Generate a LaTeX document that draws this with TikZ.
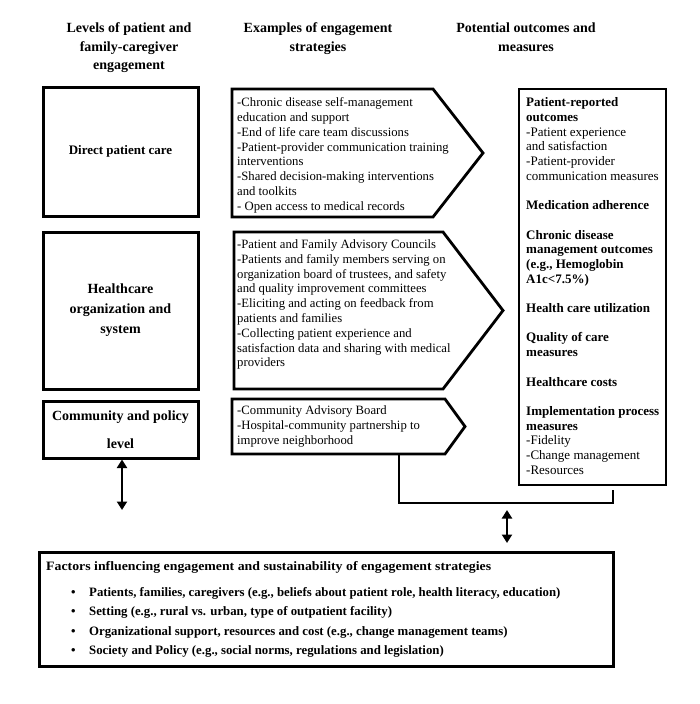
\documentclass[tikz,border=0pt]{standalone}
\usepackage{fontspec}
\setmainfont{Liberation Serif}
\newfontfamily\wide{Liberation Serif}[FakeStretch=1.08]
\usetikzlibrary{arrows.meta}
\begin{document}
\begin{tikzpicture}[x=1pt,y=-1pt,
  lvl/.style={draw, line width=3pt, minimum width=155pt, align=center, inner sep=0pt,
    font=\fontsize{14}{20}\selectfont\bfseries},
  hdr/.style={align=center, anchor=north, inner sep=0pt, font=\fontsize{14}{18.7}\selectfont\bfseries},
  chev/.style={draw, line width=2.8pt, line join=miter},
  body/.style={align=left, anchor=north west, inner sep=0pt, font=\fontsize{12.7}{14.8}\selectfont},
  outbox/.style={draw, line width=2.6pt, minimum width=147pt, minimum height=396pt, inner sep=0pt},
  factbox/.style={draw, line width=3pt, minimum width=574pt, minimum height=114pt, inner sep=0pt},
  fact/.style={align=left, anchor=north west, inner sep=0pt, font=\fontsize{12.8}{19.5}\selectfont\bfseries},
  dbl/.style={{Triangle[width=10pt,length=8.5pt]}-{Triangle[width=10pt,length=8.5pt]}, line width=2.8pt},
  link/.style={line width=2pt}]
\useasboundingbox (0,0) rectangle (700,704);
\fill[white] (0,0) rectangle (700,704);

% headers
\node[hdr] (h1) at (129,22.5) {Levels of patient and\\family-caregiver\\engagement};
\node[hdr] (h2) at (318,22.5) {Examples of engagement\\strategies};
\node[hdr] (h3) at (526,22.5) {Potential outcomes and\\measures};

% level boxes
\node[lvl, minimum height=129pt, font=\fontsize{13}{16}\selectfont\bfseries] (l1) at (120.5,151.5) {Direct patient care};
\node[lvl, minimum height=157pt] (l2) at (120.5,310.5) {Healthcare\\organization and\\system};
\node[lvl, minimum height=57pt, font=\fontsize{14}{28}\selectfont\bfseries] (l3) at (120.5,429.5) {Community and policy\\level};

% chevrons
\draw[chev] (232,89) -- (433,89) -- (483,153) -- (433,217) -- (232,217) -- cycle;
\draw[chev] (234,232) -- (443,232) -- (503,310.5) -- (443,389) -- (234,389) -- cycle;
\draw[chev] (232,399) -- (445,399) -- (465,426.5) -- (445,454) -- (232,454) -- cycle;
\coordinate (a3b) at (399,454);

\node[body] (s1) at (237,97.5) {-Chronic disease self-management\\education and support\\-End of life care team discussions\\-Patient-provider communication training\\interventions\\-Shared decision-making interventions\\and toolkits\\- Open access to medical records};
\node[body] (s2) at (237,239.5) {-Patient and Family Advisory Councils\\-Patients and family members serving on\\organization board of trustees, and safety\\and quality improvement committees\\-Eliciting and acting on feedback from\\patients and families\\-Collecting patient experience and\\satisfaction data and sharing with medical\\providers};
\node[body] (s3) at (237,405.5) {-Community Advisory Board\\-Hospital-community partnership to\\improve neighborhood};

% outcomes box
\node[outbox] (o) at (592.5,287) {};
\node[body, font=\fontsize{13}{14.7}\selectfont] (ot) at (526,97.5) {\textbf{Patient-reported}\\\textbf{outcomes}\\-Patient experience\\and satisfaction\\-Patient-provider\\communication measures\\[14.7pt]
\textbf{Medication adherence}\\[14.7pt]
\textbf{Chronic disease}\\\textbf{management outcomes}\\\textbf{(e.g., Hemoglobin}\\\textbf{A1c<7.5\%)}\\[14.7pt]
\textbf{Health care utilization}\\[14.7pt]
\textbf{Quality of care}\\\textbf{measures}\\[14.7pt]
\textbf{Healthcare costs}\\[14.7pt]
\textbf{Implementation process}\\\textbf{measures}\\-Fidelity\\-Change management\\-Resources};

% connector
\coordinate (j1) at (613,503);
\coordinate (j2) at (613,490);
\draw[link] (a3b) |- (j1) -- (j2);

% double arrows
\coordinate (d1) at (122,510);
\draw[dbl] (l3.south -| d1) -- (d1);
\coordinate (m1) at (507,510);
\coordinate (m2) at (507,543);
\draw[dbl] (m1) -- (m2);

% factors box
\node[factbox] (f) at (326,609) {};
\node[fact, font=\wide\fontsize{12.8}{19.5}\selectfont\bfseries] (ft) at (46,561.5) {Factors influencing engagement and sustainability of engagement strategies};
\node[fact] (fb) at (71,587) {\makebox[18pt][l]{\textbullet}Patients, families, caregivers (e.g., beliefs about patient role, health literacy, education)\\
\makebox[18pt][l]{\textbullet}Setting (e.g., rural vs. urban, type of outpatient facility)\\
\makebox[18pt][l]{\textbullet}Organizational support, resources and cost (e.g., change management teams)\\
\makebox[18pt][l]{\textbullet}Society and Policy (e.g., social norms, regulations and legislation)};
\end{tikzpicture}
\end{document}
